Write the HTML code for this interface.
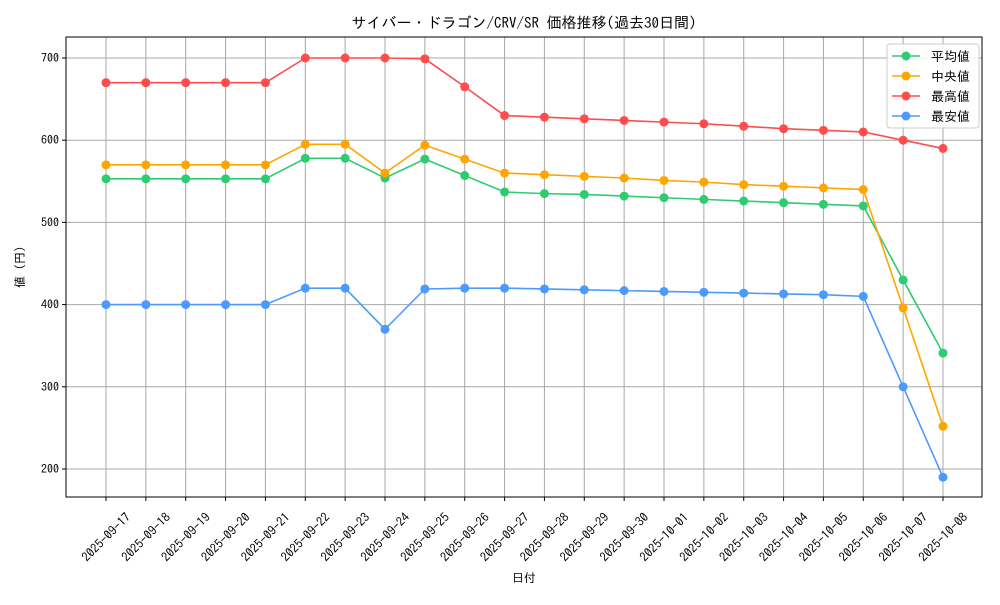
<!DOCTYPE html>
<html><head><meta charset="utf-8"><style>
body{margin:0;background:#fff;}
svg text{font-family:"IPAGothic","Liberation Sans",sans-serif;fill:#000;}
</style></head><body>
<svg id="c" width="1000" height="600" xmlns="http://www.w3.org/2000/svg"></svg>
<script>
const categories=["2025-09-17","2025-09-18","2025-09-19","2025-09-20","2025-09-21","2025-09-22","2025-09-23","2025-09-24","2025-09-25","2025-09-26","2025-09-27","2025-09-28","2025-09-29","2025-09-30","2025-10-01","2025-10-02","2025-10-03","2025-10-04","2025-10-05","2025-10-06","2025-10-07","2025-10-08"];
const avgValues=[553,553,553,553,553,578,578,554,577,557,537,535,534,532,530,528,526,524,522,520,430,341];
const medianValues=[570,570,570,570,570,595,595,560,594,577,560,558,556,554,551,549,546,544,542,540,396,252];
const maxValues=[670,670,670,670,670,700,700,700,699,665,630,628,626,624,622,620,617,614,612,610,600,590];
const minValues=[400,400,400,400,400,420,420,370,419,420,420,419,418,417,416,415,414,413,412,410,300,190];
const yTicks=[200,300,400,500,600,700];
const seriesNames=["平均値","中央値","最高値","最安値"];
const NS="http://www.w3.org/2000/svg";
const svg=document.getElementById('c');
const L=66,R=982,T=37,B=497;
const x=i=>106+i*(943-106)/(categories.length-1);
const y=v=>469-(v-200)*(469-58)/500;
function el(tag,attrs,parent){const e=document.createElementNS(NS,tag);for(const k in attrs)e.setAttribute(k,attrs[k]);(parent||svg).appendChild(e);return e;}
const title=el('text',{x:524,y:28,'text-anchor':'middle','font-size':15});
title.textContent="サイバー・ドラゴン/CRV/SR 価格推移(過去30日間)";


categories.forEach((c,i)=>{
 const g=el('line',{x1:x(i),x2:x(i),y1:T,y2:B,stroke:'#a8a8a8','stroke-width':1});
 
 
 el('line',{x1:x(i),x2:x(i),y1:B,y2:B+4,stroke:'#000'});
 const t=el('text',{transform:`translate(${x(i)},${537}) rotate(-45)`,'text-anchor':'middle','font-size':12.5,'dominant-baseline':'central'});
 t.textContent=c;
 
 
});
yTicks.forEach(v=>{
 const g=el('line',{x1:L,x2:R,y1:y(v),y2:y(v),stroke:'#a8a8a8','stroke-width':1});
 
 
 el('line',{x1:L-4,x2:L,y1:y(v),y2:y(v),stroke:'#000'});
 const t=el('text',{x:L-7,y:y(v)+4,'text-anchor':'end','font-size':12});
 t.textContent=v;
 
 
});
const frame=el('rect',{x:L,y:T,width:R-L,height:B-T,fill:'none',stroke:'#000','stroke-width':1});


const xt=el('text',{x:524,y:582,'text-anchor':'middle','font-size':12});xt.textContent="日付";


const yt=el('text',{transform:'translate(24,267) rotate(-90)','text-anchor':'middle','font-size':12});yt.textContent="値 (円)";


const series=[[avgValues,'#2ecc71','average-series'],[medianValues,'#ffa500','median-series'],[maxValues,'#ff4c4c','max-series'],[minValues,'#4c9aff','min-series']];
series.forEach(([vals,col,name])=>{
 const g=el('g',{});
 
 
 el('polyline',{points:vals.map((v,i)=>x(i)+','+y(v)).join(' '),fill:'none',stroke:col,'stroke-width':1.6},g);
 vals.forEach((v,i)=>{
  const p=el('circle',{cx:x(i),cy:y(v),r:4.5,fill:col},g);
  
  
 });
});
const lg=el('g',{});


el('rect',{x:887,y:44,width:92,height:84,rx:3,fill:'#fff','fill-opacity':0.85,stroke:'#ccc'},lg);
series.forEach(([vals,col],i)=>{
 const yy=56+i*20;
 const e=el('g',{},lg);
 
 
 el('line',{x1:892,x2:920,y1:yy,y2:yy,stroke:col,'stroke-width':1.6},e);
 el('circle',{cx:906,cy:yy,r:4.5,fill:col},e);
 const t=el('text',{x:931,y:yy+5,'font-size':13},e);t.textContent=seriesNames[i];
});
</script>
</body></html>
